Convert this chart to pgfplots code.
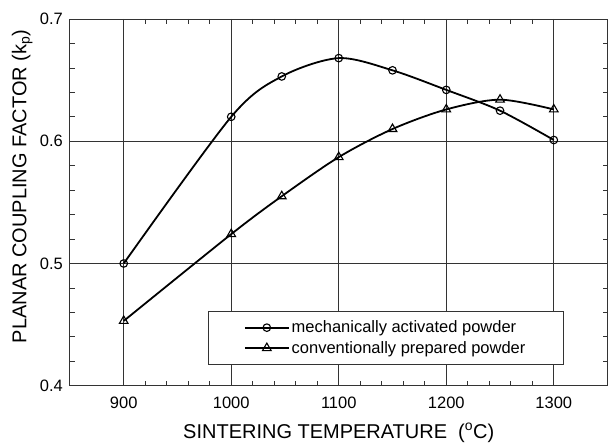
\documentclass[border=0pt]{standalone}
\usepackage{pgfplots}
\pgfplotsset{compat=1.18}
\usepackage{fontspec}
\setmainfont{Liberation Sans}
\begin{document}
\begin{tikzpicture}
\begin{axis}[
  scale only axis, width=538pt, height=367pt,
  xmin=850, xmax=1350, ymin=0.4, ymax=0.7,
  xtick={900,1000,1100,1200,1300}, ytick={0.4,0.5,0.6,0.7},
  minor x tick num=4, minor y tick num=4,
  tick align=inside, xtick pos=both, ytick pos=both,
  major tick length=5pt, minor tick length=5pt,
  grid=major, major grid style={line width=0.9pt, black!80},
  axis line style={line width=0.9pt, black!80},
  every tick/.style={line width=0.7pt, black!80},
  /pgf/number format/assume math mode=true,
  tick label style={font=\fontsize{16.5}{19}\selectfont},
  yticklabel style={/pgf/number format/.cd, fixed, fixed zerofill, precision=1, /tikz/.cd, inner xsep=0pt, xshift=-7pt},
  xticklabel style={/pgf/number format/.cd, set thousands separator={}, /tikz/.cd, anchor=base, yshift=-22.5pt},
  xlabel={SINTERING TEMPERATURE\ \ (\textsuperscript{o}C)},
  ylabel={PLANAR COUPLING FACTOR (k\textsubscript{p})},
  label style={font=\fontsize{20}{23}\selectfont, inner sep=0pt},
  xlabel style={at={([yshift=-52.5pt]axis description cs:0.5,0)}, anchor=base},
  ylabel style={at={([xshift=-43.5pt]axis description cs:0,0.5436)}, anchor=base, rotate=0},
  legend cell align=left,
  legend style={at={(axis cs:978,0.4615)}, anchor=north west, draw=black!80, line width=0.8pt,
    font=\fontsize{16.5}{19}\selectfont, inner xsep=36pt, inner ysep=8pt, row sep=3pt},
  legend image code/.code={
    \draw[line width=1.8pt, mark repeat=2, mark phase=2] plot coordinates {(0pt,0pt) (22pt,0pt) (44pt,0pt)};
  },
]
\addplot[black, line width=1.8pt, smooth, mark=o, mark size=3.8pt, mark options={fill=white, line width=1.1pt}]
  coordinates {(900,0.500)(1000,0.620)(1047,0.653)(1100,0.668)(1150,0.658)(1200,0.642)(1250,0.625)(1300,0.601)};
\addlegendentry{mechanically activated powder}
\addplot[black, line width=1.8pt, smooth, mark=triangle, mark size=5pt, mark options={fill=white, line width=1.1pt}]
  coordinates {(900,0.453)(1000,0.524)(1047,0.555)(1100,0.587)(1150,0.610)(1200,0.626)(1250,0.634)(1300,0.626)};
\addlegendentry{conventionally prepared powder}
\end{axis}
\path ([shift={(-70pt,19pt)}]current axis.north west) rectangle ([shift={(0pt,-56pt)}]current axis.south east);
\end{tikzpicture}
\end{document}
